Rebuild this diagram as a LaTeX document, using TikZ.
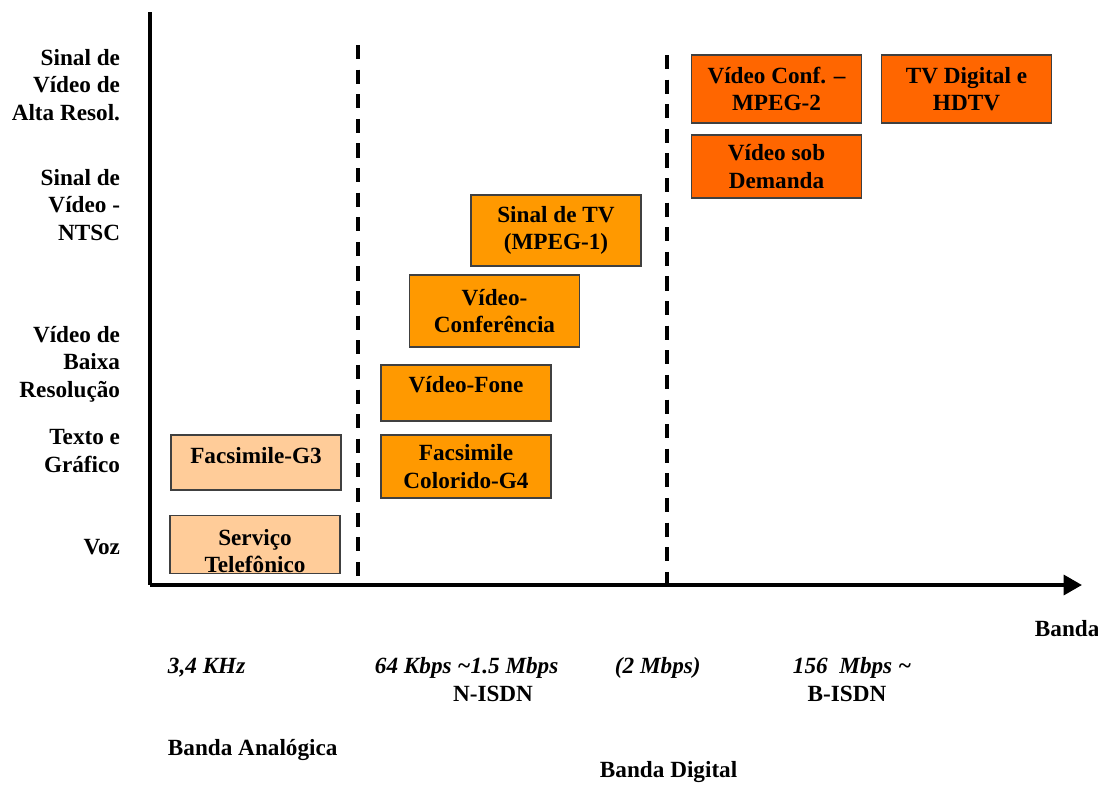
\documentclass[tikz,border=0pt]{standalone}
\usepackage{fontspec}
\setmainfont{Liberation Serif}
\usetikzlibrary{arrows.meta}
\definecolor{peach}{HTML}{FFCC99}
\definecolor{amber}{HTML}{FF9900}
\definecolor{rust}{HTML}{FF6600}
\definecolor{edge}{HTML}{404040}
\begin{document}
\begin{tikzpicture}[x=0.025cm, y=-0.025cm,
    every node/.style={font=\fontsize{16.5}{19.5}\selectfont\bfseries},
    svc/.style={draw=edge, line width=0.9pt, align=center, inner sep=0pt,
        minimum width=4.25cm},
    lvl/.style={anchor=east, align=right},
    band/.style={anchor=west, font=\fontsize{16.5}{19.5}\selectfont\bfseries\itshape},
    sep/.style={line width=2.8pt, dash pattern=on 10pt off 7.5pt}]
        \useasboundingbox (0,0) rectangle (1098,784);

        % Axes
        \coordinate (O) at (150,585);
        \coordinate (Ytop) at (150,12);
        \coordinate (Xend) at (1082,585);
        \draw[line width=2.8pt] (Ytop) -- (O);
        \draw[line width=2.8pt, -{Triangle[length=13pt, width=14pt]}] (O) -- (Xend);

        % Band separators
        \coordinate (A) at (358,45);
        \coordinate (A0) at (358,585);
        \coordinate (B) at (667,55);
        \coordinate (B0) at (667,585);
        \draw[sep] (A) -- (A0);
        \draw[sep] (B) -- (B0);

        % Service levels
        \node[lvl] (alta) at (125,85) {Sinal de\\Vídeo de\\Alta Resol.};
        \node[lvl] (ntsc) at (125,205) {Sinal de\\Vídeo -\\NTSC};
        \node[lvl] (baixa) at (125,364) {Vídeo de\\Baixa\\Resolução};
        \node[lvl] (texto) at (125,451) {Texto e\\Gráfico};
        \node[lvl] (voz) at (125,547) {Voz};

        % Services
        \node[svc, fill=peach, minimum height=1.375cm] (fax3) at (256,462.5) {Facsimile-G3\\[-9.5pt]};
        \node[svc, fill=peach, minimum height=1.425cm] (tel) at (255,544.5) {\strut\\[-12pt]Serviço\\Telefônico};
        \node[svc, fill=amber, minimum height=1.575cm] (fax4) at (466,466.5) {Facsimile\\Colorido-G4};
        \node[svc, fill=amber, minimum height=1.4cm] (fone) at (466,393) {Vídeo-Fone\\[-8pt]};
        \node[svc, fill=amber, minimum height=1.8cm] (conf) at (494.5,311) {Vídeo-\\Conferência};
        \node[svc, fill=amber, minimum height=1.775cm] (tv1) at (556,230.5) {Sinal de TV\\(MPEG-1)};
        \node[svc, fill=rust, minimum height=1.7cm] (mpeg2) at (776.5,89) {Vídeo Conf. --\\MPEG-2};
        \node[svc, fill=rust, minimum height=1.7cm] (hdtv) at (966.5,89) {TV Digital e\\HDTV};
        \node[svc, fill=rust, minimum height=1.575cm] (vod) at (776.5,166.5) {Vídeo sob\\Demanda};

        % Bandwidths
        \node[anchor=west] (banda) at (1030,629) {Banda};
        \node[band] (khz) at (163,668) {3,4 KHz};
        \node[band] (kbps) at (370,668) {64 Kbps \textasciitilde1.5 Mbps};
        \node (nisdn) at (493,694) {N-ISDN};
        \node[band] (dois) at (610,668) {(2 Mbps)};
        \node[band] (mbps) at (788,668) {156\ \ Mbps \textasciitilde};
        \node (bisdn) at (847,694) {B-ISDN};
        \node[anchor=west] (analog) at (163,750) {Banda Analógica};
        \node[anchor=west] (digit) at (595,772) {Banda Digital};
    \end{tikzpicture}
\end{document}
